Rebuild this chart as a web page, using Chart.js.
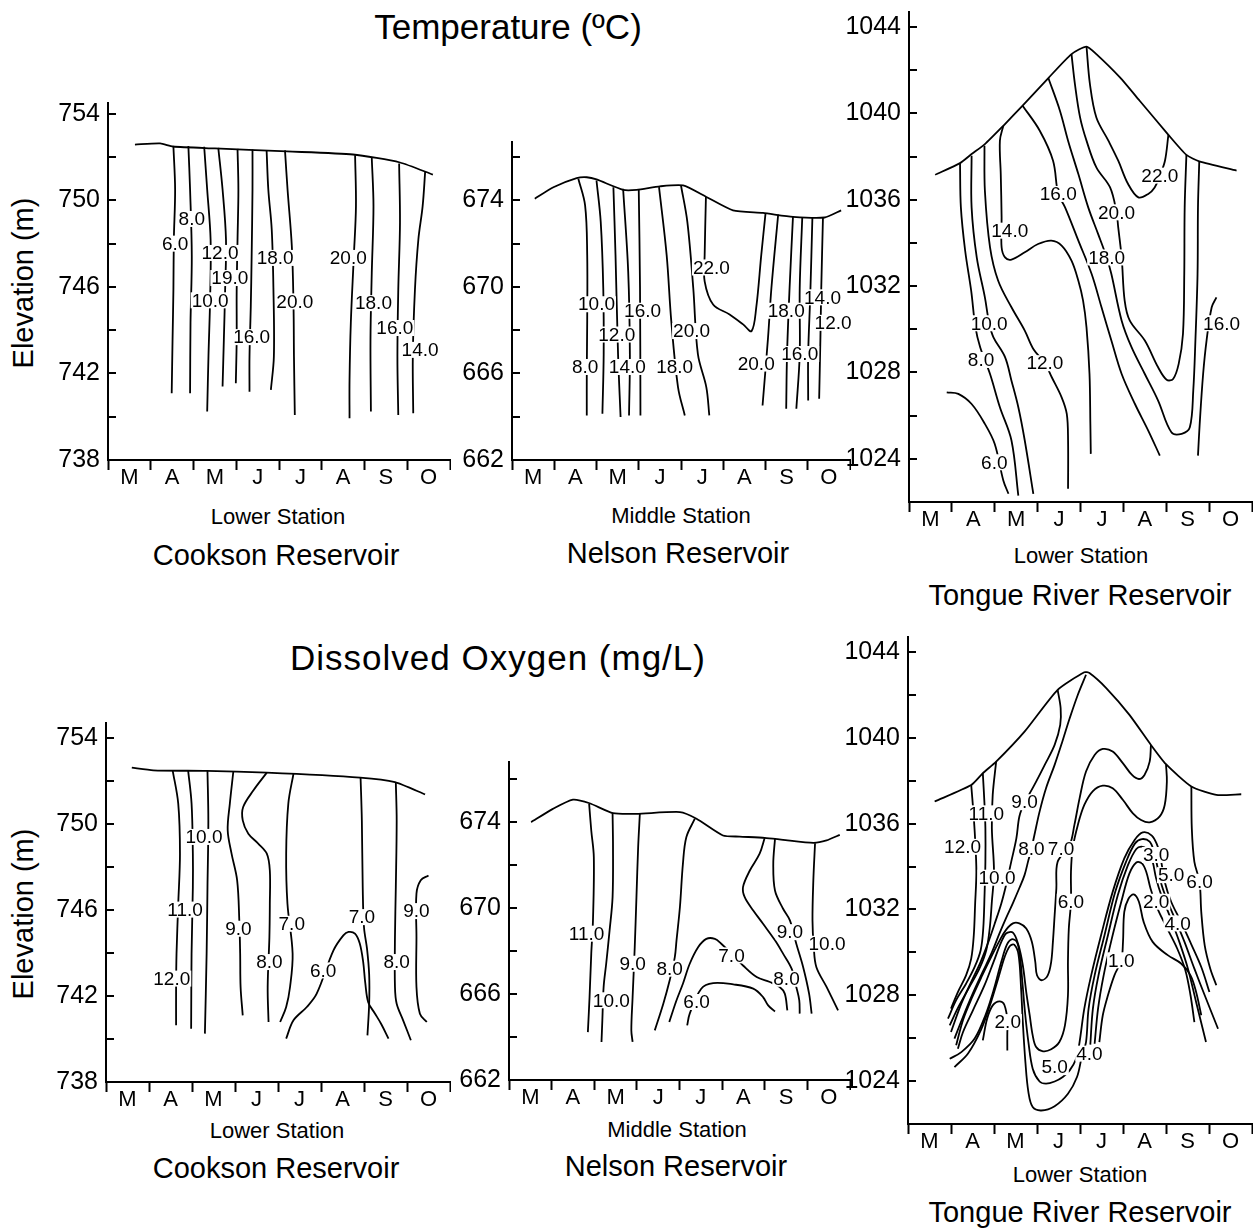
<!DOCTYPE html>
<html>
<head>
<meta charset="utf-8">
<script src="https://cdn.jsdelivr.net/npm/chart.js@4.4.1/dist/chart.umd.min.js"></script>
<style>
html, body { margin: 0; padding: 0; background: #fff; overflow: hidden; }
body { width: 1253px; height: 1228px; position: relative; color: #000;
       font-family: "Liberation Sans", Arial, Helvetica, sans-serif; }
canvas { position: absolute; }
.t { position: absolute; white-space: nowrap; line-height: 1; transform: translate(-50%, -50%); }
.rot { transform: translate(-50%, -50%) rotate(-90deg); }
</style>
</head>
<body>
<div class="t" style="left:508px;top:26px;font-size:35px">Temperature (ºC)</div>
<div class="t" style="left:498px;top:657px;font-size:35px;letter-spacing:1px">Dissolved Oxygen (mg/L)</div>
<div class="t rot" style="left:23px;top:283px;font-size:29px">Elevation (m)</div>
<div class="t rot" style="left:23px;top:914px;font-size:29px">Elevation (m)</div>

<div class="t" style="left:278px;top:517px;font-size:22px">Lower Station</div>
<div class="t" style="left:276px;top:555px;font-size:29px">Cookson Reservoir</div>
<div class="t" style="left:681px;top:516px;font-size:22px">Middle Station</div>
<div class="t" style="left:678px;top:553px;font-size:29px">Nelson Reservoir</div>
<div class="t" style="left:1081px;top:556px;font-size:22px">Lower Station</div>
<div class="t" style="left:1080px;top:595px;font-size:29px">Tongue River Reservoir</div>

<div class="t" style="left:277px;top:1131px;font-size:22px">Lower Station</div>
<div class="t" style="left:276px;top:1168px;font-size:29px">Cookson Reservoir</div>
<div class="t" style="left:677px;top:1130px;font-size:22px">Middle Station</div>
<div class="t" style="left:676px;top:1166px;font-size:29px">Nelson Reservoir</div>
<div class="t" style="left:1080px;top:1175px;font-size:22px">Lower Station</div>
<div class="t" style="left:1080px;top:1212px;font-size:29px">Tongue River Reservoir</div>

<canvas id="cT"></canvas>
<canvas id="nT"></canvas>
<canvas id="tT"></canvas>
<canvas id="cO"></canvas>
<canvas id="nO"></canvas>
<canvas id="tO"></canvas>

<script>
// x = months since start of March (0..8), y = elevation (m)
const months = ['M', 'A', 'M', 'J', 'J', 'A', 'S', 'O'];

// ---- Cookson Reservoir, temperature ----
const cooksonTempSurface = [[0.63,752.58],[1.22,752.63],[1.52,752.49],[2.5,752.4],[3.3,752.33],[4.19,752.26],[5.73,752.12],[6.83,751.75],[7.6,751.19]];
const cooksonTempLines = [
  [[1.53,752.51],[1.57,750.5],[1.54,748.19],[1.53,745.87],[1.51,743.56],[1.49,741.09]],
  [[1.88,752.51],[1.92,750.5],[1.96,747.41],[1.93,744.33],[1.92,741.09]],
  [[2.25,752.48],[2.32,750.5],[2.40,748.19],[2.39,745.56],[2.35,742.78],[2.32,740.24]],
  [[2.58,752.43],[2.68,750.5],[2.76,748.19],[2.74,745.87],[2.71,743.56],[2.68,741.40]],
  [[3.03,752.38],[3.05,750.5],[3.03,748.19],[3.01,745.87],[3.01,743.56],[2.99,741.55]],
  [[3.38,752.35],[3.38,750.5],[3.36,747.41],[3.34,745.10],[3.31,742.78],[3.31,741.16]],
  [[3.71,752.32],[3.75,750.5],[3.83,748.65],[3.87,745.87],[3.88,742.78],[3.81,741.24]],
  [[4.14,752.31],[4.20,750.5],[4.30,747.88],[4.34,745.10],[4.35,742.78],[4.37,740.08]],
  [[5.78,752.09],[5.80,749.73],[5.75,747.41],[5.68,744.33],[5.65,741.70],[5.65,739.93]],
  [[6.17,751.97],[6.21,749.73],[6.17,746.64],[6.14,743.56],[6.15,740.24]],
  [[6.81,751.70],[6.83,748.96],[6.79,745.87],[6.77,742.78],[6.79,740.08]],
  [[7.42,751.35],[7.36,749.73],[7.26,748.19],[7.18,745.87],[7.13,742.78],[7.14,740.16]]
];
const cooksonTempLabels = [
  [1.96,749.14,'8.0'],[1.57,748.0,'6.0'],[2.62,747.57,'12.0'],[2.85,746.41,'19.0'],
  [2.39,745.38,'10.0'],[3.36,743.68,'16.0'],[3.91,747.34,'18.0'],[4.37,745.33,'20.0'],
  [5.62,747.34,'20.0'],[6.21,745.25,'18.0'],[6.71,744.10,'16.0'],[7.30,743.09,'14.0']
];

// ---- Nelson Reservoir, temperature ----
const nelsonTempSurface = [[0.54,674.08],[0.98,674.61],[1.53,675.03],[1.77,675.07],[2.0,674.97],[2.63,674.49],[2.95,674.49],[3.50,674.65],[4.05,674.69],[4.60,674.16],[5.23,673.54],[5.94,673.42],[6.65,673.24],[7.40,673.21],[7.79,673.54]];
const nelsonTempLines = [
  [[1.57,675.0],[1.73,673.77],[1.78,671.48],[1.78,668.42],[1.77,666.13],[1.77,664.06]],
  [[2.0,674.92],[2.10,673.01],[2.16,669.95],[2.17,666.89],[2.14,664.14]],
  [[2.40,674.61],[2.45,671.48],[2.51,666.89],[2.57,663.99]],
  [[2.63,674.54],[2.75,670.72],[2.79,666.89],[2.77,664.06]],
  [[3.0,674.49],[3.03,669.95],[3.04,664.06]],
  [[3.48,674.61],[3.66,671.48],[3.77,668.42],[3.93,665.36],[4.09,664.06]],
  [[4.0,674.69],[4.15,673.01],[4.29,669.95],[4.40,666.89],[4.60,665.36],[4.67,664.06]],
  [[4.59,674.16],[4.56,671.48],[4.56,670.26],[4.76,669.19],[5.15,668.73],[5.47,668.27],[5.67,667.96],[5.78,669.03],[5.90,671.48],[6.0,673.39]],
  [[6.30,673.35],[6.14,669.95],[6.06,667.66],[5.93,664.52]],
  [[6.65,673.24],[6.57,669.95],[6.51,666.89],[6.49,664.37]],
  [[6.87,673.21],[6.81,669.95],[6.81,666.89],[6.73,664.37]],
  [[7.11,673.21],[7.06,669.65],[7.01,666.89],[7.01,664.75]],
  [[7.36,673.21],[7.32,669.95],[7.30,667.66],[7.27,664.83]]
];
const nelsonTempLabels = [
  [2.0,669.2,'10.0'],[3.09,668.9,'16.0'],[2.48,667.8,'12.0'],[4.25,667.96,'20.0'],
  [1.73,666.3,'8.0'],[2.73,666.3,'14.0'],[3.85,666.3,'18.0'],[4.72,670.9,'22.0'],
  [5.78,666.46,'20.0'],[6.49,668.9,'18.0'],[6.81,666.9,'16.0'],[7.35,669.52,'14.0'],[7.6,668.34,'12.0']
];

// ---- Tongue River Reservoir, temperature ----
const tongueTempSurface = [[0.61,1037.16],[1.19,1037.70],[1.46,1038.12],[1.77,1038.58],[2.20,1039.43],[2.65,1040.36],[3.25,1041.64],[3.79,1042.75],[4.14,1043.10],[4.37,1042.75],[4.92,1041.67],[5.38,1040.59],[6.05,1039.01],[6.47,1038.08],[6.77,1037.78],[7.64,1037.35]];
const tongueTempLines = [
  [[1.19,1037.69],[1.21,1035.65],[1.31,1033.64],[1.45,1031.79],[1.55,1030.09],[1.66,1029.17],[1.89,1027.93],[2.12,1026.39],[2.39,1024.85],[2.55,1022.3]],
  [[1.46,1038.04],[1.46,1035.65],[1.58,1033.33],[1.77,1031.48],[1.87,1030.28],[1.97,1029.63],[2.24,1028.71],[2.39,1027.62],[2.55,1026.39],[2.70,1024.85],[2.90,1022.38]],
  [[1.76,1038.5],[1.77,1036.42],[1.89,1033.80],[2.08,1032.25],[2.39,1031.02],[2.70,1029.94],[2.90,1029.09],[3.17,1028.43],[3.33,1027.78],[3.56,1026.85],[3.68,1026.08],[3.71,1024.85],[3.71,1022.61]],
  [[2.20,1039.43],[2.12,1038.74],[2.14,1037.19],[2.16,1035.19],[2.16,1033.80],[2.24,1033.33],[2.39,1033.23],[2.70,1033.57],[3.01,1033.95],[3.32,1034.11],[3.56,1033.88],[3.79,1033.18],[3.95,1032.25],[4.06,1031.33],[4.14,1030.09],[4.21,1027.93],[4.23,1025.62],[4.24,1024.23]],
  [[2.65,1040.36],[3.05,1039.20],[3.36,1037.81],[3.48,1036.27],[3.64,1035.65],[3.95,1034.11],[4.26,1032.56],[4.49,1031.02],[4.72,1029.48],[4.96,1027.93],[5.27,1026.54],[5.58,1025.31],[5.85,1024.15]],
  [[3.25,1041.64],[3.52,1040.13],[3.71,1038.74],[3.95,1037.19],[4.18,1035.65],[4.41,1034.42],[4.61,1033.33],[4.72,1032.56],[4.96,1030.40],[5.19,1029.17],[5.50,1027.93],[5.81,1026.70],[6.12,1025.23],[6.36,1025.16],[6.55,1025.46],[6.63,1027.16],[6.68,1029.48],[6.73,1032.56],[6.74,1035.65],[6.77,1037.78]],
  [[3.79,1042.75],[3.87,1041.36],[3.99,1039.82],[4.14,1038.74],[4.37,1037.50],[4.69,1036.57],[4.84,1035.42],[4.88,1034.72],[4.96,1033.33],[5.03,1031.33],[5.15,1030.40],[5.50,1029.48],[5.81,1028.24],[6.01,1027.66],[6.16,1027.70],[6.29,1028.40],[6.39,1029.78],[6.42,1032.56],[6.43,1035.65],[6.47,1038.08]],
  [[4.14,1043.10],[4.22,1041.36],[4.37,1039.81],[4.65,1038.74],[4.88,1037.81],[5.11,1036.73],[5.35,1036.11],[5.58,1036.27],[5.73,1036.57],[5.85,1037.12],[5.97,1037.81],[6.05,1039.01]],
  [[7.17,1031.48],[7.06,1031.02],[6.94,1029.48],[6.86,1027.93],[6.78,1025.62],[6.74,1024.15]],
  [[0.88,1027.08],[1.15,1027.01],[1.46,1026.54],[1.77,1025.62],[2.0,1024.69],[2.20,1023.0],[2.32,1022.38]]
];
const tongueTempLabels = [
  [1.68,1028.58,'8.0'],[1.87,1030.28,'10.0'],[3.17,1028.43,'12.0'],[2.35,1034.57,'14.0'],
  [3.48,1036.27,'16.0'],[4.84,1035.42,'20.0'],[4.61,1033.33,'18.0'],[5.85,1037.12,'22.0'],
  [7.29,1030.28,'16.0'],[1.99,1023.84,'6.0']
];

// ---- Cookson Reservoir, dissolved oxygen ----
const cooksonDoSurface = [[0.60,752.62],[1.10,752.5],[2.34,752.47],[3.74,752.39],[5.91,752.16],[6.72,751.95],[7.42,751.38]];
const cooksonDoLines = [
  [[1.55,752.50],[1.68,750.95],[1.72,748.62],[1.68,746.29],[1.64,743.97],[1.63,742.42],[1.63,740.64]],
  [[1.91,752.50],[1.99,750.95],[2.02,748.62],[2.02,747.07],[1.99,743.97],[1.98,740.48]],
  [[2.36,752.47],[2.38,750.17],[2.36,747.07],[2.34,743.97],[2.30,740.25]],
  [[2.96,752.42],[2.88,750.95],[2.83,749.71],[2.92,748.62],[3.05,747.38],[3.10,745.52],[3.12,743.97],[3.13,742.42],[3.18,741.10]],
  [[3.74,752.39],[3.43,751.57],[3.19,750.79],[3.18,750.17],[3.31,749.55],[3.54,749.09],[3.74,748.62],[3.81,747.84],[3.81,746.29],[3.80,744.74],[3.76,742.42],[3.78,740.79]],
  [[4.36,752.34],[4.24,750.95],[4.19,748.62],[4.22,746.29],[4.34,743.97],[4.28,742.42],[4.19,741.49],[4.05,740.79]],
  [[4.19,740.02],[4.36,740.87],[4.67,741.49],[4.90,742.11],[5.29,744.12],[5.52,744.82],[5.64,744.98],[5.79,744.90],[5.90,744.45],[5.98,743.6],[6.03,742.6],[6.10,741.7],[6.25,741.2],[6.40,740.7],[6.57,740.02]],
  [[5.92,752.19],[5.95,750.17],[5.97,747.07],[6.0,745.2],[6.07,744.2],[6.12,743.0],[6.12,741.64],[6.08,740.17]],
  [[6.74,751.95],[6.76,750.17],[6.74,747.07],[6.72,744.74],[6.72,742.42],[6.76,741.64],[6.91,740.87],[7.09,739.94]],
  [[7.50,747.61],[7.32,747.38],[7.22,746.76],[7.22,744.74],[7.22,742.42],[7.30,741.18],[7.46,740.79]]
];
const cooksonDoLabels = [
  [2.28,749.40,'10.0'],[1.84,746.02,'11.0'],[1.53,742.81,'12.0'],[3.08,745.13,'9.0'],
  [3.80,743.58,'8.0'],[4.32,745.36,'7.0'],[5.05,743.19,'6.0'],[5.95,745.67,'7.0'],
  [7.22,745.95,'9.0'],[6.76,743.58,'8.0']
];

// ---- Nelson Reservoir, dissolved oxygen ----
const nelsonDoSurface = [[0.52,674.0],[1.03,674.62],[1.50,675.05],[1.89,674.88],[2.44,674.42],[2.99,674.39],[4.01,674.47],[4.40,674.16],[5.02,673.38],[5.41,673.33],[6.0,673.27],[6.43,673.18],[7.14,673.04],[7.45,673.15],[7.76,673.41]];
const nelsonDoLines = [
  [[1.88,674.85],[1.93,673.61],[1.99,672.37],[1.97,669.43],[1.93,667.88],[1.89,665.86],[1.85,664.23]],
  [[2.43,674.43],[2.44,672.84],[2.43,670.51],[2.36,668.96],[2.28,667.41],[2.22,666.33],[2.19,664.78],[2.17,663.77]],
  [[3.07,674.39],[3.03,672.84],[2.99,670.51],[2.95,668.19],[2.90,665.86],[2.87,664.31],[2.90,663.77]],
  [[4.36,674.16],[4.16,673.30],[4.08,672.06],[4.01,670.05],[3.93,668.50],[3.89,667.72],[3.77,666.64],[3.62,665.55],[3.42,664.31]],
  [[3.76,664.70],[3.93,665.71],[4.08,666.48],[4.24,667.41],[4.44,668.19],[4.63,668.57],[4.83,668.57],[4.98,668.34],[5.18,667.95],[5.49,667.33],[5.81,666.79],[6.12,666.56],[6.35,666.33],[6.47,666.02],[6.53,665.24]],
  [[4.18,664.54],[4.24,665.09],[4.51,666.25],[4.79,666.51],[5.26,666.45],[5.73,666.25],[5.96,665.86],[6.08,665.47],[6.24,665.19]],
  [[6.0,673.27],[5.88,672.53],[5.65,671.75],[5.49,670.98],[5.53,670.51],[5.73,669.89],[5.96,669.27],[6.24,668.50],[6.43,667.88],[6.63,667.18],[6.74,666.33],[6.81,665.71],[6.82,665.09]],
  [[6.24,673.22],[6.20,672.06],[6.24,670.82],[6.43,669.97],[6.59,669.43],[6.74,668.34],[6.90,667.26],[7.04,666.02],[7.10,665.09]],
  [[7.18,673.02],[7.14,671.29],[7.12,669.43],[7.15,668.19],[7.21,667.26],[7.45,666.33],[7.72,665.24]]
];
const nelsonDoLabels = [
  [1.82,668.81,'11.0'],[2.40,665.71,'10.0'],[2.90,667.41,'9.0'],[3.77,667.18,'8.0'],
  [5.22,667.80,'7.0'],[4.40,665.63,'6.0'],[6.59,668.88,'9.0'],[7.46,668.34,'10.0'],[6.51,666.71,'8.0']
];

// ---- Tongue River Reservoir, dissolved oxygen ----
const tongueDoSurface = [[0.62,1037.03],[1.47,1037.80],[1.74,1038.35],[2.05,1038.89],[2.71,1040.29],[3.48,1042.24],[4.10,1043.06],[4.22,1043.02],[4.61,1042.32],[5.15,1041.07],[5.65,1039.67],[6.0,1038.77],[6.59,1037.73],[7.17,1037.34],[7.75,1037.37]];
const tongueDoLines = [
  [[1.47,1037.80],[1.52,1036.56],[1.56,1035.31],[1.59,1033.76],[1.56,1032.20],[1.53,1030.80],[1.47,1029.71],[1.35,1028.93],[1.16,1028.15],[1.00,1027.38]],
  [[1.74,1038.35],[1.78,1036.87],[1.80,1035.78],[1.80,1034.22],[1.78,1032.67],[1.75,1031.11],[1.69,1030.10],[1.55,1029.32],[1.35,1028.54],[1.12,1027.77],[0.93,1026.91]],
  [[2.05,1038.89],[1.97,1037.34],[1.95,1035.78],[2.0,1033.76],[1.95,1032.36],[1.90,1031.11],[1.82,1030.10],[1.66,1029.24],[1.43,1028.39],[1.17,1027.45],[0.97,1026.60]],
  [[3.48,1042.24],[3.55,1041.38],[3.54,1040.6],[3.41,1039.67],[3.18,1038.74],[2.98,1037.96],[2.83,1037.41],[2.71,1037.0],[2.59,1036.33],[2.52,1035.31],[2.40,1034.22],[2.28,1033.13],[2.17,1032.28],[2.03,1031.42],[1.87,1030.49],[1.69,1029.56],[1.47,1028.62],[1.24,1027.61],[1.00,1026.29]],
  [[4.14,1042.94],[3.95,1042.01],[3.76,1040.91],[3.59,1039.83],[3.41,1038.74],[3.21,1037.65],[3.06,1036.56],[2.94,1035.47],[2.87,1034.82],[2.80,1034.3],[2.71,1033.6],[2.59,1033.0],[2.44,1032.3],[2.28,1031.6],[2.13,1030.9],[1.95,1030.0],[1.74,1029.1],[1.51,1028.1],[1.28,1027.0],[1.08,1025.98]],
  [[5.65,1039.67],[5.62,1038.89],[5.50,1038.27],[5.37,1038.08],[5.21,1038.27],[5.0,1038.81],[4.76,1039.36],[4.53,1039.48],[4.34,1039.20],[4.14,1038.43],[3.99,1037.18],[3.87,1035.94],[3.76,1035.0],[3.48,1034.22],[3.45,1032.98],[3.41,1031.73],[3.37,1030.49],[3.33,1029.56],[3.25,1028.93],[3.11,1028.70],[3.0,1028.93],[2.96,1029.56],[2.88,1030.49],[2.75,1031.11],[2.59,1031.35],[2.44,1031.35],[2.28,1031.05],[2.13,1030.55],[1.95,1029.85],[1.72,1028.9],[1.48,1027.85],[1.28,1026.85],[1.12,1025.67]],
  [[6.0,1038.77],[6.02,1037.96],[5.97,1036.87],[5.85,1036.33],[5.62,1036.06],[5.42,1036.17],[5.23,1036.48],[5.0,1037.10],[4.76,1037.65],[4.53,1037.77],[4.30,1037.52],[4.10,1036.87],[3.95,1035.94],[3.83,1034.85],[3.79,1033.76],[3.79,1032.36],[3.74,1031.11],[3.72,1029.56],[3.72,1028.0],[3.65,1026.60],[3.52,1025.82],[3.33,1025.48],[3.14,1025.39],[2.98,1025.59],[2.90,1026.13],[2.83,1027.07],[2.75,1028.15],[2.67,1029.40],[2.57,1030.33],[2.44,1030.92],[2.28,1030.88],[2.17,1030.49],[1.99,1029.56],[1.78,1028.47],[1.51,1027.30],[1.28,1026.29],[1.16,1025.51]],
  [[0.97,1025.04],[1.24,1025.35],[1.55,1025.98],[1.80,1027.07],[2.00,1028.3],[2.17,1029.56],[2.30,1030.36],[2.41,1030.61],[2.53,1030.49],[2.60,1029.87],[2.66,1028.62],[2.72,1027.22],[2.80,1025.82],[2.90,1024.58],[3.06,1023.98],[3.21,1023.88],[3.41,1023.98],[3.60,1024.19],[3.76,1024.50],[3.91,1025.04],[3.99,1025.82],[4.10,1027.38],[4.26,1028.93],[4.49,1030.80],[4.76,1032.82],[5.03,1034.38],[5.27,1035.24],[5.46,1035.59],[5.67,1035.44],[5.81,1034.92],[5.89,1034.22],[5.97,1033.29],[6.12,1032.36],[6.35,1031.42],[6.58,1030.41],[6.82,1029.32],[7.01,1028.15]],
  [[1.08,1024.65],[1.40,1025.3],[1.70,1026.4],[1.90,1027.5],[2.10,1028.8],[2.25,1029.8],[2.37,1030.3],[2.47,1030.36],[2.57,1029.9],[2.63,1028.31],[2.67,1026.75],[2.73,1024.89],[2.80,1023.49],[2.90,1022.79],[3.10,1022.63],[3.41,1022.83],[3.72,1023.41],[3.93,1024.19],[4.04,1025.12],[4.14,1025.82],[4.20,1027.38],[4.34,1028.93],[4.57,1030.80],[4.82,1032.82],[5.07,1034.22],[5.28,1035.08],[5.44,1035.28],[5.62,1035.16],[5.72,1034.69],[5.81,1033.91],[5.90,1033.13],[6.04,1032.36],[6.24,1031.42],[6.43,1030.49],[6.66,1029.24],[6.90,1028.0],[7.21,1026.44]],
  [[4.24,1025.70],[4.30,1027.38],[4.43,1028.93],[4.65,1030.80],[4.88,1032.67],[5.11,1034.04],[5.31,1034.82],[5.46,1034.92],[5.59,1034.72],[5.69,1034.22],[5.77,1033.45],[5.89,1032.67],[6.08,1031.73],[6.31,1030.49],[6.51,1029.24],[6.70,1027.69],[6.93,1025.82]],
  [[4.34,1025.74],[4.42,1027.38],[4.55,1028.93],[4.74,1030.64],[4.96,1032.36],[5.15,1033.68],[5.31,1034.19],[5.44,1034.15],[5.54,1033.76],[5.64,1032.98],[5.80,1032.05],[6.03,1031.11],[6.26,1030.18],[6.45,1029.17],[6.57,1028.0],[6.66,1026.75]],
  [[4.45,1025.82],[4.53,1027.07],[4.65,1028.0],[4.80,1028.93],[4.96,1029.63],[5.0,1030.49],[5.03,1031.89],[5.13,1032.51],[5.25,1032.70],[5.37,1032.36],[5.48,1031.42],[5.69,1030.49],[6.04,1029.87],[6.35,1029.48],[6.57,1028.93],[6.70,1028.15],[6.82,1027.07]],
  [[6.59,1037.73],[6.60,1035.78],[6.66,1034.22],[6.78,1033.29],[6.82,1031.89],[6.90,1030.33],[7.03,1029.24],[7.17,1028.47]],
  [[1.74,1025.90],[1.84,1026.91],[1.97,1027.53],[2.13,1027.72],[2.24,1027.56],[2.32,1026.75],[2.31,1026.29],[2.31,1025.43]]
];
const tongueDoLabels = [
  [1.27,1034.92,'12.0'],[1.82,1036.48,'11.0'],[2.07,1033.48,'10.0'],[2.71,1037.0,'9.0'],
  [2.87,1034.82,'8.0'],[3.56,1034.82,'7.0'],[3.79,1032.36,'6.0'],[5.77,1034.54,'3.0'],
  [6.12,1033.60,'5.0'],[6.78,1033.29,'6.0'],[5.77,1032.36,'2.0'],[6.27,1031.35,'4.0'],
  [4.96,1029.63,'1.0'],[2.32,1026.75,'2.0'],[3.41,1024.65,'5.0'],[4.22,1025.28,'4.0']
];

const FONT = '"Liberation Sans", Arial, Helvetica, sans-serif';
const Y_AXIS_W = 80;
const X_AXIS_H = 40;
const PAD_TOP = 28;

// plot area in page pixels: [left, top, right, bottom]
const panels = [
  { id: 'cT', box: [108, 103, 450, 460],  yRange: [738, 754.5],   base: 738,  surface: cooksonTempSurface, lines: cooksonTempLines, labels: cooksonTempLabels },
  { id: 'nT', box: [512, 142, 850, 460],  yRange: [662, 676.7],   base: 662,  surface: nelsonTempSurface,  lines: nelsonTempLines,  labels: nelsonTempLabels },
  { id: 'tT', box: [909, 12, 1252, 502],  yRange: [1022, 1044.7], base: 1024, surface: tongueTempSurface,  lines: tongueTempLines,  labels: tongueTempLabels },
  { id: 'cO', box: [106, 723, 450, 1082], yRange: [738, 754.7],   base: 738,  surface: cooksonDoSurface,   lines: cooksonDoLines,   labels: cooksonDoLabels },
  { id: 'nO', box: [509, 762, 850, 1080], yRange: [662, 676.8],   base: 662,  surface: nelsonDoSurface,    lines: nelsonDoLines,    labels: nelsonDoLabels },
  { id: 'tO', box: [908, 637, 1252, 1124], yRange: [1022, 1044.7], base: 1024, surface: tongueDoSurface,    lines: tongueDoLines,    labels: tongueDoLabels }
];

function toXY(pts) {
  return pts.map(p => ({ x: p[0], y: p[1] }));
}

// value labels sitting on the isopleths, with a white gap behind them
function labelPlugin(items) {
  return {
    id: 'contourLabels',
    afterDatasetsDraw(chart) {
      const ctx = chart.ctx;
      const xs = chart.scales.x, ys = chart.scales.y;
      ctx.save();
      ctx.font = '19px ' + FONT;
      ctx.textAlign = 'center';
      ctx.textBaseline = 'middle';
      items.forEach(([x, y, text]) => {
        const px = xs.getPixelForValue(x);
        const py = ys.getPixelForValue(y);
        const w = ctx.measureText(text).width;
        ctx.fillStyle = '#fff';
        ctx.fillRect(px - w / 2 - 1, py - 8, w + 2, 16);
        ctx.fillStyle = '#000';
        ctx.fillText(text, px, py + 1);
      });
      ctx.restore();
    }
  };
}

// short tick marks on the inner side of the elevation axis, every 2 m
const innerTicks = {
  id: 'innerTicks',
  afterDraw(chart) {
    const ys = chart.scales.y;
    const left = chart.chartArea.left;
    const ctx = chart.ctx;
    ctx.save();
    ctx.strokeStyle = '#000';
    ctx.lineWidth = 2;
    for (let v = Math.ceil(ys.min / 2) * 2; v <= ys.max; v += 2) {
      const py = Math.round(ys.getPixelForValue(v));
      ctx.beginPath();
      ctx.moveTo(left, py);
      ctx.lineTo(left + 8, py);
      ctx.stroke();
    }
    ctx.restore();
  }
};

function drawPanel(p) {
  const [l, t, r, b] = p.box;
  const canvas = document.getElementById(p.id);
  const w = r - l + Y_AXIS_W + 1;
  const h = b - t + PAD_TOP + X_AXIS_H;
  canvas.width = w;
  canvas.height = h;
  canvas.style.left = (l - Y_AXIS_W) + 'px';
  canvas.style.top = (t - PAD_TOP) + 'px';
  canvas.style.width = w + 'px';
  canvas.style.height = h + 'px';

  const datasets = [p.surface, ...p.lines].map((pts, i) => ({
    data: toXY(pts),
    showLine: true,
    borderColor: '#000',
    borderWidth: 1.8,
    pointRadius: 0,
    pointHoverRadius: 0,
    tension: i === 0 ? 0.2 : 0.35,
    fill: false
  }));

  new Chart(canvas.getContext('2d'), {
    type: 'scatter',
    data: { datasets },
    options: {
      responsive: false,
      animation: false,
      events: [],
      layout: { padding: { top: PAD_TOP, right: 1, left: 0, bottom: 0 } },
      plugins: { legend: { display: false }, tooltip: { enabled: false } },
      scales: {
        x: {
          type: 'linear',
          position: 'bottom',
          min: 0,
          max: 8,
          bounds: 'data',
          afterFit: s => { s.height = X_AXIS_H; },
          border: { display: true, color: '#000', width: 2 },
          grid: {
            display: true,
            drawOnChartArea: false,
            drawTicks: true,
            tickLength: 10,
            tickWidth: 2,
            tickColor: c => (Number.isInteger(c.tick.value) ? '#000' : 'rgba(0,0,0,0)')
          },
          ticks: {
            stepSize: 0.5,
            autoSkip: false,
            maxRotation: 0,
            minRotation: 0,
            padding: -5,
            color: '#000',
            font: { family: FONT, size: 22 },
            callback: v => (Math.abs((v % 1) - 0.5) < 0.01 ? months[Math.floor(v)] : '')
          }
        },
        y: {
          type: 'linear',
          position: 'left',
          min: p.yRange[0],
          max: p.yRange[1],
          bounds: 'data',
          afterFit: s => { s.width = Y_AXIS_W; },
          border: { display: true, color: '#000', width: 2 },
          grid: { display: false, drawTicks: false },
          ticks: {
            stepSize: 2,
            includeBounds: false,
            autoSkip: false,
            padding: 8,
            color: '#000',
            font: { family: FONT, size: 25, lineHeight: 1 },
            callback: v => ((v - p.base) % 4 === 0 ? String(v) : '')
          }
        }
      }
    },
    plugins: [labelPlugin(p.labels), innerTicks]
  });
}

panels.forEach(drawPanel);
</script>
</body>
</html>
